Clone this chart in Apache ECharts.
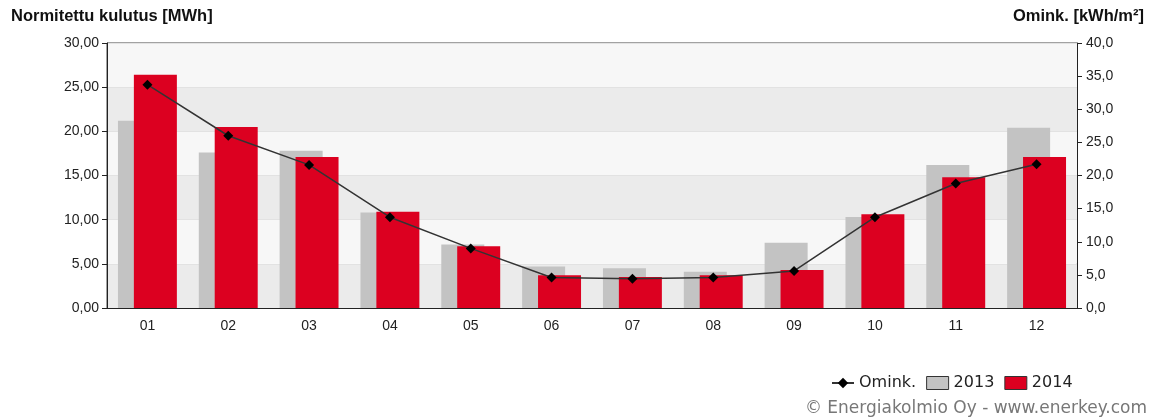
<!DOCTYPE html>
<html>
<head>
<meta charset="utf-8">
<script src="https://cdn.jsdelivr.net/npm/echarts@6/dist/echarts.min.js"></script>
<style>
  html, body { margin: 0; padding: 0; background: #ffffff; }
  #chart { width: 1157px; height: 418px; }
</style>
</head>
<body>
<div id="chart"></div>
<script>
// Monthly normalised consumption (MWh) and specific consumption (kWh/m²)
const months = ['01', '02', '03', '04', '05', '06', '07', '08', '09', '10', '11', '12'];
const consumption2013 = [21.2, 17.6, 17.8, 10.8, 7.2, 4.7, 4.5, 4.1, 7.4, 10.3, 16.2, 20.4];
const consumption2014 = [26.4, 20.5, 17.1, 10.9, 7.0, 3.7, 3.5, 3.7, 4.3, 10.6, 14.8, 17.1];
const specific = [33.7, 26.0, 21.6, 13.7, 9.0, 4.6, 4.4, 4.6, 5.6, 13.7, 18.8, 21.7];

const leftTitle = 'Normitettu kulutus [MWh]';
const rightTitle = 'Omink. [kWh/m²]';
const footer = '© Energiakolmio Oy - www.enerkey.com';

const axisFont = 'Liberation Sans, Arial, sans-serif';
const legendFont = 'DejaVu Sans, Verdana, sans-serif';

const chart = echarts.init(document.getElementById('chart'), null, { renderer: 'canvas' });

chart.setOption({
  animation: false,
  backgroundColor: '#ffffff',
  grid: {
    left: 107, right: 80, top: 43, bottom: 110,
    show: true, borderColor: '#444', borderWidth: 1, backgroundColor: 'transparent'
  },
  graphic: [
    {
      type: 'text', left: 11, top: 8,
      style: { text: leftTitle, font: 'bold 16.5px ' + axisFont, fill: '#111' }
    },
    {
      type: 'text', right: 13, top: 8,
      style: { text: rightTitle, font: 'bold 16.5px ' + axisFont, fill: '#111' }
    },
    {
      type: 'text', right: 10, top: 400,
      style: { text: footer, font: '17px ' + legendFont, fill: '#777' }
    }
  ],
  legend: {
    left: 826, top: 370,
    itemWidth: 22, itemHeight: 13, itemGap: 10,
    textStyle: { fontFamily: legendFont, fontSize: 16, color: '#222' },
    data: [
      { name: 'Omink.' },
      { name: '2013', icon: 'rect', itemStyle: { borderColor: '#333', borderWidth: 1 } },
      { name: '2014', icon: 'rect', itemStyle: { borderColor: '#333', borderWidth: 1 } }
    ]
  },
  xAxis: {
    type: 'category',
    data: months,
    axisLine: { lineStyle: { color: '#222', width: 1 } },
    axisTick: { alignWithLabel: true, length: 5, lineStyle: { color: '#222' } },
    axisLabel: { fontFamily: axisFont, fontSize: 14, color: '#222', margin: 11 }
  },
  yAxis: [
    {
      type: 'value', min: 0, max: 30, interval: 5,
      axisLine: { show: true, lineStyle: { color: '#222' } },
      axisTick: { show: true, length: 5, lineStyle: { color: '#222' } },
      axisLabel: {
        fontFamily: axisFont, fontSize: 14, color: '#222', margin: 8,
        formatter: v => v.toFixed(2).replace('.', ',')
      },
      splitLine: { show: true, lineStyle: { color: '#e2e2e2', width: 1 } },
      splitArea: { show: true, areaStyle: { color: ['#ebebeb', '#f7f7f7'] } }
    },
    {
      type: 'value', min: 0, max: 40, interval: 5, position: 'right',
      axisLine: { show: true, lineStyle: { color: '#222' } },
      axisTick: { show: true, length: 5, lineStyle: { color: '#222' } },
      axisLabel: {
        fontFamily: axisFont, fontSize: 14, color: '#222', margin: 9,
        formatter: v => v.toFixed(1).replace('.', ',')
      },
      splitLine: { show: false },
      splitArea: { show: false }
    }
  ],
  series: [
    {
      name: '2013', type: 'bar', yAxisIndex: 0,
      data: consumption2013,
      barWidth: 43, barGap: '-63%',
      itemStyle: { color: '#c3c3c3' }
    },
    {
      name: '2014', type: 'bar', yAxisIndex: 0,
      data: consumption2014,
      barWidth: 43,
      itemStyle: { color: '#dc0020' }
    },
    {
      name: 'Omink.', type: 'line', yAxisIndex: 1,
      data: specific,
      symbol: 'diamond', symbolSize: 10,
      lineStyle: { color: '#333', width: 1.5 },
      itemStyle: { color: '#000' },
      z: 5
    }
  ]
});
</script>
</body>
</html>
